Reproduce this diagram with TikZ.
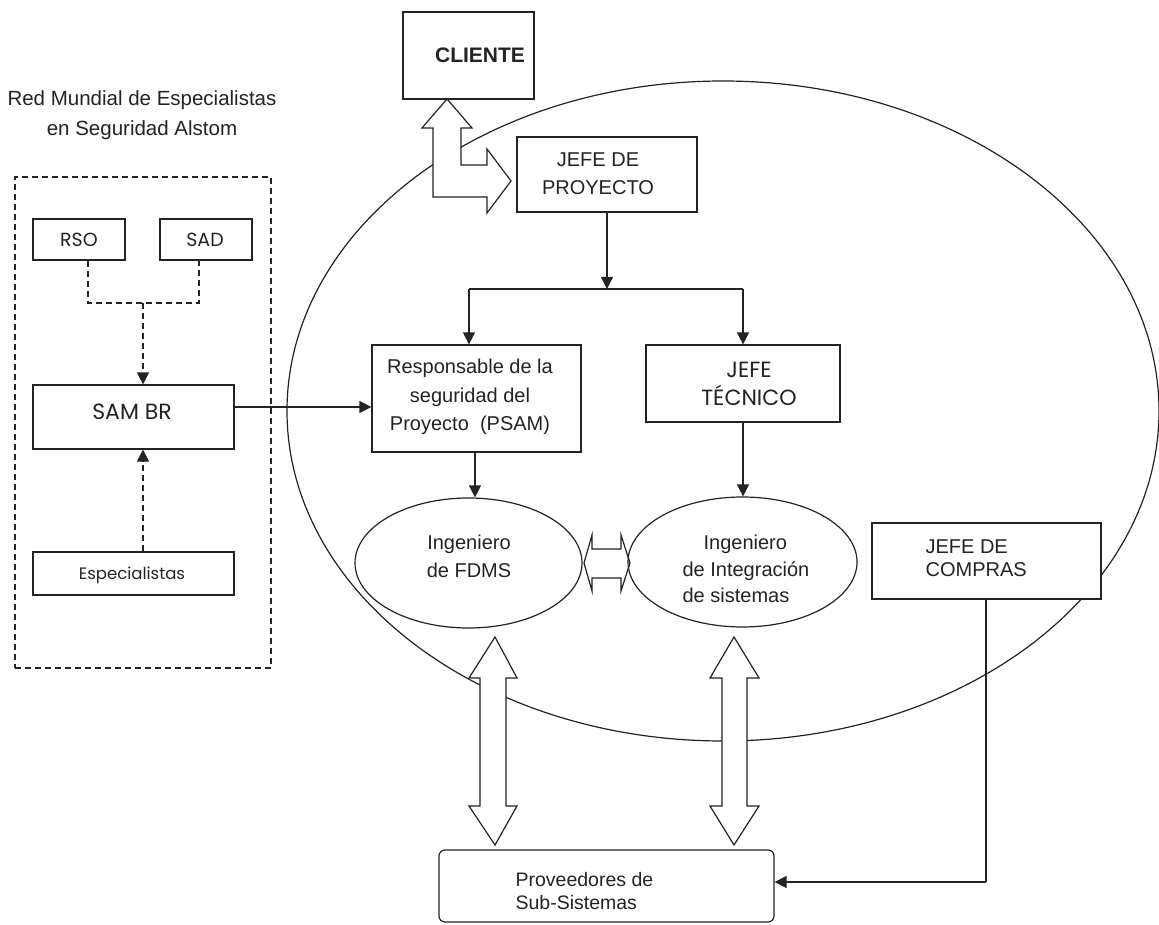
\documentclass[tikz,border=0pt]{standalone}
\usepackage{fontspec}
\setmainfont{Liberation Sans}
\newfontfamily\geo{Poppins}
\usetikzlibrary{arrows.meta,shapes.geometric}
\definecolor{ink}{RGB}{35,35,35}
\begin{document}
\begin{tikzpicture}[x=1pt,y=-1pt,
  line width=1.2pt, draw=ink, text=ink,
  box/.style={draw, fill=white, inner sep=0pt},
  oval/.style={draw, ellipse, inner sep=0pt},
  txt/.style={inner sep=0pt, align=center, font=\fontsize{20}{28}\selectfont},
  arr/.style={-{Triangle[length=12pt,width=12pt]}},
  dsh/.style={dash pattern=on 6pt off 4pt},
  blk/.style={draw, fill=white, line join=miter}
]
\useasboundingbox (0,0) rectangle (1159,925);
\fill[white] (0,0) rectangle (1159,925);

% big ellipse
\node[oval, minimum width=872pt, minimum height=660pt] (big) at (723,411) {};

% left dashed group
\node[draw, dsh, inner sep=0pt, minimum width=256pt, minimum height=491pt] (grp) at (143,422.5) {};
\node[txt, font=\fontsize{20.5}{30}\selectfont] (title) at (142,115) {Red Mundial de Especialistas\\en Seguridad Alstom};

\node[box, minimum width=92pt, minimum height=41pt] (rso) at (79,239.5) {};
\node[box, minimum width=92pt, minimum height=41pt] (sad) at (206,239.5) {};
\node[box, minimum width=201pt, minimum height=64pt] (sam) at (133.5,417) {};
\node[box, minimum width=201pt, minimum height=43pt] (esp) at (133.5,573.5) {};
\node[txt, font=\geo\fontsize{19}{24}\selectfont] (trso) at (79,240) {RSO};
\node[txt, font=\geo\fontsize{19}{24}\selectfont] (tsad) at (205,240) {SAD};
\node[txt, font=\geo\fontsize{22}{24}\selectfont] (tsam) at (132,412) {SAM BR};
\node[txt, font=\geo\fontsize{16.5}{24}\selectfont] (tesp) at (132,575) {Especialistas};

\coordinate (d1) at (88,303);
\coordinate (d2) at (199,303);
\coordinate (dm) at (143,303);
\draw[dsh] (d1 |- rso.south) -- (d1) -- (d2) -- (d2 |- sad.south);
\draw[dsh, arr] (dm) -- (dm |- sam.north);
\draw[dsh, arr] (dm |- esp.north) -- (dm |- sam.south);

% main boxes
\node[box, minimum width=131pt, minimum height=87pt] (cli) at (468.5,55.5) {};
\node[txt, font=\bfseries\fontsize{21}{28}\selectfont] (tcli) at (480,55) {CLIENTE};

\node[box, minimum width=180pt, minimum height=75pt] (jp) at (607,174.5) {};
\node[txt] (tjp) at (598,174) {JEFE DE\\PROYECTO};

\node[box, minimum width=209pt, minimum height=107pt] (resp) at (476.5,398.5) {};
\node[txt, font=\fontsize{20}{28.5}\selectfont] (tresp) at (470,397) {Responsable de la\\seguridad del\\Proyecto\ \ (PSAM)};

\node[box, minimum width=194pt, minimum height=77pt] (jt) at (743,383.5) {};
\node[txt, font=\geo\fontsize{22}{28}\selectfont] (tjt) at (749,384) {JEFE\\TÉCNICO};

\node[box, minimum width=229pt, minimum height=76pt] (comp) at (986.5,561) {};
\node[txt, anchor=west, align=left, font=\fontsize{20}{23}\selectfont] (tcomp) at (925,558.5) {JEFE DE\\COMPRAS};

\node[box, rounded corners=6pt, minimum width=335pt, minimum height=72pt] (prov) at (606.5,886) {};
\node[txt, anchor=west, align=left, font=\fontsize{19.5}{23}\selectfont] (tprov) at (515,891.5) {Proveedores de\\Sub-Sistemas};

% block arrows
\draw[blk] (461,128) -- (461,165) -- (487,165) -- (487,149) -- (511,181) -- (487,213) -- (487,197)
  -- (433,197) -- (433,128) -- (422,128) -- (447,99) -- (472,128) -- cycle;
\draw[blk] (584,563) -- (592,535) -- (592,549) -- (621,549) -- (621,535) -- (630,563)
  -- (621,591) -- (621,578) -- (592,578) -- (592,591) -- cycle;
\draw[blk] (495,637) -- (517,678) -- (506,678) -- (506,806) -- (517,806) -- (495,845)
  -- (469,806) -- (480,806) -- (480,678) -- (469,678) -- cycle;
\draw[blk] (734,637) -- (759,678) -- (747,678) -- (747,806) -- (759,806) -- (734,845)
  -- (710,806) -- (722,806) -- (722,678) -- (710,678) -- cycle;

% engineer ellipses
\node[oval, minimum width=227pt, minimum height=130pt] (fdms) at (468.5,563) {};
\node[txt, font=\fontsize{20}{28}\selectfont] (tfdms) at (469,556) {Ingeniero\\de FDMS};
\node[oval, minimum width=229pt, minimum height=130pt] (integ) at (742.5,562) {};
\node[txt, anchor=west, align=left, font=\fontsize{20}{26.5}\selectfont] (tinteg) at (682,569) {\hspace*{21pt}Ingeniero\\de Integración\\de sistemas};

% connectors
\coordinate (sp) at (607,289);
\coordinate (sl) at (469,289);
\coordinate (sr) at (743,289);
\draw[arr] (jp.south) -- (sp);
\draw (sl) -- (sr);
\draw[arr] (sl) -- (sl |- resp.north);
\draw[arr] (sr) -- (sr |- jt.north);
\coordinate (rf) at (475,452);
\draw[arr] (rf) -- (rf |- fdms.north);
\draw[arr] (jt.south) -- (jt.south |- integ.north);
\coordinate (s1) at (234,407);
\draw[arr] (s1) -- (s1 -| resp.west);
\coordinate (c1) at (986,882);
\draw (comp.south -| c1) -- (c1);
\draw[arr] (c1) -- (c1 -| prov.east);
\end{tikzpicture}
\end{document}
